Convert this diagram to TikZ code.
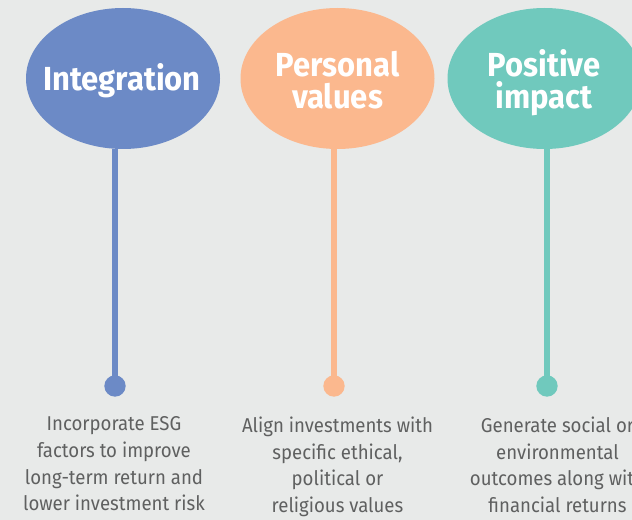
\documentclass[tikz,border=0pt]{standalone}
\usepackage{fontspec}
\setmainfont{Fira Sans}
\newfontfamily\headfont[FakeStretch=0.93,BoldFont={Fira Sans Bold}]{Fira Sans}
\newfontfamily\descfont[FakeStretch=0.93]{Fira Sans}
\usetikzlibrary{shapes.geometric}
\definecolor{bgc}{HTML}{E8EAE9}
\definecolor{cblue}{HTML}{6C8AC6}
\definecolor{corange}{HTML}{FBB88E}
\definecolor{cteal}{HTML}{70C9BD}
\definecolor{txt}{HTML}{5F6060}
\tikzset{x=0.75pt,y=-0.75pt,
 head/.style={ellipse,minimum width=145.5pt,minimum height=105.75pt,inner sep=0pt},
 headtext/.style={text=white,font=\headfont\fontsize{25}{24}\selectfont\bfseries,align=center,inner sep=0pt},
 stem/.style={line width=4.5pt},
 dot/.style={circle,minimum size=16pt,inner sep=0pt},
 desc/.style={text=txt,font=\descfont\fontsize{15}{20}\selectfont,align=center,anchor=north,inner sep=0pt}}
\begin{document}
\begin{tikzpicture}
\useasboundingbox (0,0) rectangle (632,520);
\fill[bgc] (0,0) rectangle (632,520);
\begin{scope}
\clip (0,0) rectangle (632,520);
\node[dot,fill=cblue] (d1) at (115,386) {};
\node[dot,fill=corange] (d2) at (334,386) {};
\node[dot,fill=cteal] (d3) at (547,386) {};
\node[head,fill=cblue] (h1) at (123,78.5) {};
\node[head,fill=corange] (h2) at (337.5,78.5) {};
\node[head,fill=cteal] (h3) at (544.5,78.5) {};
\node[headtext] (l1) at (122,81) {Integration};
\node[headtext] (l2) at (337.5,80.5) {Personal\\values};
\node[headtext] (l3) at (544,83) {Positive\\impact};
\draw[stem,cblue] (d1.center) -- (d1.center |- h1.south);
\draw[stem,corange] (d2.center) -- (d2.center |- h2.south);
\draw[stem,cteal] (d3.center) -- (d3.center |- h3.south);
\node[desc] (t1) at (114,416.5) {Incorporate ESG\\factors to improve\\long-term return and\\lower investment risk};
\node[desc] (t2) at (337.5,416.5) {Align investments with\\specific ethical,\\political or\\religious values};
\node[desc] (t3) at (557.5,416.5) {Generate social or\\environmental\\outcomes along with\\financial returns};
\end{scope}
\end{tikzpicture}
\end{document}
